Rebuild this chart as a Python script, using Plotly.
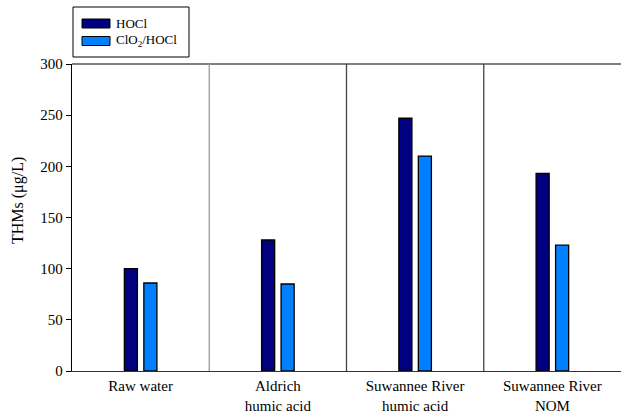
import plotly.graph_objects as go

# THM formation for each water source and disinfection scheme
categories = ["Raw water", "Aldrich<br>humic acid", "Suwannee River<br>humic acid", "Suwannee River<br>NOM"]
series_names = ["HOCl", "ClO<sub>2</sub>/HOCl"]
hocl = [100, 128, 247, 193]
clo2_hocl = [86, 85, 210, 123]
y_ticks = [0, 50, 100, 150, 200, 250, 300]

colors = ["#000080", "#0080ff"]
FONT = "'Liberation Serif', 'Times New Roman', Times, serif"

W, H = 621, 414
L, R, T, B = 72, 0, 64, 43

def px_x(px):
    return (px - L) / (W - L - R)

def px_y(py):
    return (H - B - py) / (H - T - B)

fig = go.Figure()
for name, vals, col in zip(series_names, [hocl, clo2_hocl], colors):
    fig.add_trace(go.Bar(
        x=list(range(len(categories))), y=vals, name=name,
        marker=dict(color=col, line=dict(color="black", width=1.3)),
        showlegend=False,
    ))

n = len(categories)
shapes = []
# top border: black over the first panel, grey beyond
shapes.append(dict(type="line", xref="paper", yref="paper", x0=0, x1=1 / n, y0=1, y1=1,
                   line=dict(color="black", width=1.2)))
shapes.append(dict(type="line", xref="paper", yref="paper", x0=1 / n, x1=1, y0=1, y1=1,
                   line=dict(color="#555555", width=1.5)))
# panel dividers between sources
for k in range(1, n):
    shapes.append(dict(type="line", xref="paper", yref="paper", x0=k / n, x1=k / n, y0=0, y1=1,
                       line=dict(color="#999999" if k == 1 else "#444444", width=1.3)))

# legend box with wide swatches
shapes.append(dict(type="rect", xref="paper", yref="paper",
                   x0=px_x(73), x1=px_x(189), y0=px_y(57), y1=px_y(7),
                   line=dict(color="black", width=1), fillcolor="white"))
annotations = []
for i, (name, col) in enumerate(zip(series_names, colors)):
    cy = 23.5 + i * 17.5
    shapes.append(dict(type="rect", xref="paper", yref="paper",
                       x0=px_x(82), x1=px_x(110), y0=px_y(cy + 4.5), y1=px_y(cy - 4.5),
                       line=dict(color="black", width=1), fillcolor=col))
    annotations.append(dict(xref="paper", yref="paper", x=px_x(114), y=px_y(cy),
                            xanchor="left", yanchor="middle", text=name, showarrow=False,
                            font=dict(family=FONT, size=13, color="black")))

annotations.append(dict(xref="paper", yref="paper", x=px_x(18), y=px_y(201),
                        xanchor="center", yanchor="middle", text="THMs (μg/L)",
                        textangle=-90, showarrow=False,
                        font=dict(family=FONT, size=16, color="black")))

fig.update_layout(
    width=W, height=H,
    margin=dict(l=L, r=R, t=T, b=B, pad=0),
    paper_bgcolor="white", plot_bgcolor="white",
    barmode="group", bargap=0.716, bargroupgap=0.33,
    font=dict(family=FONT, size=15, color="black"),
    shapes=shapes, annotations=annotations,
    xaxis=dict(range=[-0.5, n - 0.5], tickmode="array",
               tickvals=list(range(n)), ticktext=categories,
               showline=True, linecolor="#333333", linewidth=1.3,
               ticks="", showgrid=False, zeroline=False, ticklabelstandoff=1,
               automargin=False,
               tickfont=dict(family=FONT, size=15, color="black")),
    yaxis=dict(range=[0, 300], tickmode="array", tickvals=y_ticks,
               showline=True, linecolor="black", linewidth=1.3,
               ticks="outside", ticklen=5, tickcolor="black", tickwidth=1,
               showgrid=False, zeroline=False, automargin=False,
               tickfont=dict(family=FONT, size=15, color="black")),
)

fig.write_html("out.html")
